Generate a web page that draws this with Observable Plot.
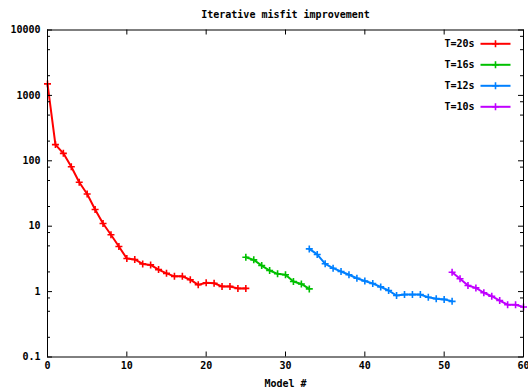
<!DOCTYPE html>
<html><head><meta charset="utf-8">
<script src="https://cdn.jsdelivr.net/npm/d3@7"></script>
<script src="https://cdn.jsdelivr.net/npm/@observablehq/plot@0.6"></script>
<style>body{margin:0;background:#fff;}</style>
</head><body><div id="chart"></div>
<script>
const titleText = "Iterative misfit improvement";
const xLabel = "Model #";
const seriesNames = ["T=20s", "T=16s", "T=12s", "T=10s"];
const seriesColors = ["#ff0000", "#00c000", "#0080ff", "#c000ff"];
const models20 = [0,1,2,3,4,5,6,7,8,9,10,11,12,13,14,15,16,17,18,19,20,21,22,23,24,25];
const misfit20 = [1500,177,130,81,47,31,18,11,7.4,4.9,3.2,3.1,2.65,2.56,2.17,1.9,1.71,1.71,1.52,1.27,1.36,1.34,1.2,1.2,1.12,1.12];
const models16 = [25,26,27,28,29,30,31,32,33];
const misfit16 = [3.36,3.06,2.5,2.1,1.87,1.81,1.43,1.31,1.1];
const models12 = [33,34,35,36,37,38,39,40,41,42,43,44,45,46,47,48,49,50,51];
const misfit12 = [4.5,3.7,2.66,2.28,2.03,1.81,1.6,1.45,1.33,1.18,1.04,0.87,0.9,0.9,0.9,0.82,0.78,0.76,0.71];
const models10 = [51,52,53,54,55,56,57,58,59,60];
const misfit10 = [1.98,1.57,1.24,1.14,0.96,0.85,0.73,0.63,0.63,0.58];
const xTicks = [0,10,20,30,40,50,60];
const yTicks = [0.1,1,10,100,1000,10000];
const yTickLabels = ["0.1","1","10","100","1000","10000"];
const yMinorTicks = [0.2,0.5,0.8,2,5,8,20,50,80,200,500,800,2000,5000,8000];

const modelsAll = [models20, models16, models12, models10];
const misfitAll = [misfit20, misfit16, misfit12, misfit10];

const W = 528, H = 390, mL = 47, mR = 5, mT = 29.5, mB = 33.5;
const fw = W - mL - mR, fh = H - mT - mB;

const plusSym = {draw(c, size) { const r = Math.sqrt(size / Math.PI); c.moveTo(-r, 0); c.lineTo(r, 0); c.moveTo(0, -r); c.lineTo(0, r); }};
const hlineSym = {draw(c, size) { c.moveTo(-15, 0); c.lineTo(15, 0); }};

const marks = [];
seriesNames.forEach((name, i) => {
  const rows = modelsAll[i].map((m, j) => ({model: m, misfit: misfitAll[i][j]}));
  marks.push(Plot.line(rows, {x: "model", y: "misfit", stroke: seriesColors[i], strokeWidth: 2}));
  marks.push(Plot.dot(rows, {x: "model", y: "misfit", stroke: seriesColors[i], fill: "none", symbol: plusSym, r: 3.5, strokeWidth: 1.6}));
});
marks.push(
  Plot.frame({stroke: "black", strokeWidth: 1}),
  Plot.tickY(yTicks, {y: d => d, insetRight: fw - 5, stroke: "black"}),
  Plot.tickY(yTicks, {y: d => d, insetLeft: fw - 5, stroke: "black"}),
  Plot.tickY(yMinorTicks, {y: d => d, insetRight: fw - 3, stroke: "black"}),
  Plot.tickY(yMinorTicks, {y: d => d, insetLeft: fw - 3, stroke: "black"}),
  Plot.tickX(xTicks, {x: d => d, insetTop: fh - 5, stroke: "black"}),
  Plot.tickX(xTicks, {x: d => d, insetBottom: fh - 5, stroke: "black"}),
  Plot.axisY({ticks: yTicks, tickSize: 0, tickPadding: 7, tickFormat: d => yTickLabels[yTicks.indexOf(d)], label: null}),
  Plot.axisX({ticks: xTicks, tickSize: 0, tickPadding: 5, tickFormat: d => String(d), label: null}),
  Plot.text([titleText], {frameAnchor: "top", dy: -15.5, lineAnchor: "middle", fill: "black"}),
  Plot.text([xLabel], {frameAnchor: "bottom", dy: 27, lineAnchor: "middle", fill: "black"})
);
seriesNames.forEach((name, i) => {
  const dy = 13.8 + i * 21;
  marks.push(Plot.text([name], {frameAnchor: "top-right", dx: -49, dy, textAnchor: "end", lineAnchor: "middle", fill: "black"}));
  marks.push(Plot.dot([name], {frameAnchor: "top-right", dx: -28, dy, symbol: hlineSym, r: 4, stroke: seriesColors[i], fill: "none", strokeWidth: 2}));
  marks.push(Plot.dot([name], {frameAnchor: "top-right", dx: -28, dy, symbol: plusSym, r: 3.5, stroke: seriesColors[i], fill: "none", strokeWidth: 1.6}));
});

const chart = Plot.plot({
  width: W, height: H,
  marginLeft: mL, marginRight: mR, marginTop: mT, marginBottom: mB,
  style: {fontFamily: "'DejaVu Sans Mono', monospace", fontSize: "10px", fontWeight: "bold", background: "white", color: "black"},
  x: {domain: [0, 60]},
  y: {type: "log", domain: [0.1, 10000]},
  marks
});
document.getElementById("chart").appendChild(chart);
</script>
</body></html>
